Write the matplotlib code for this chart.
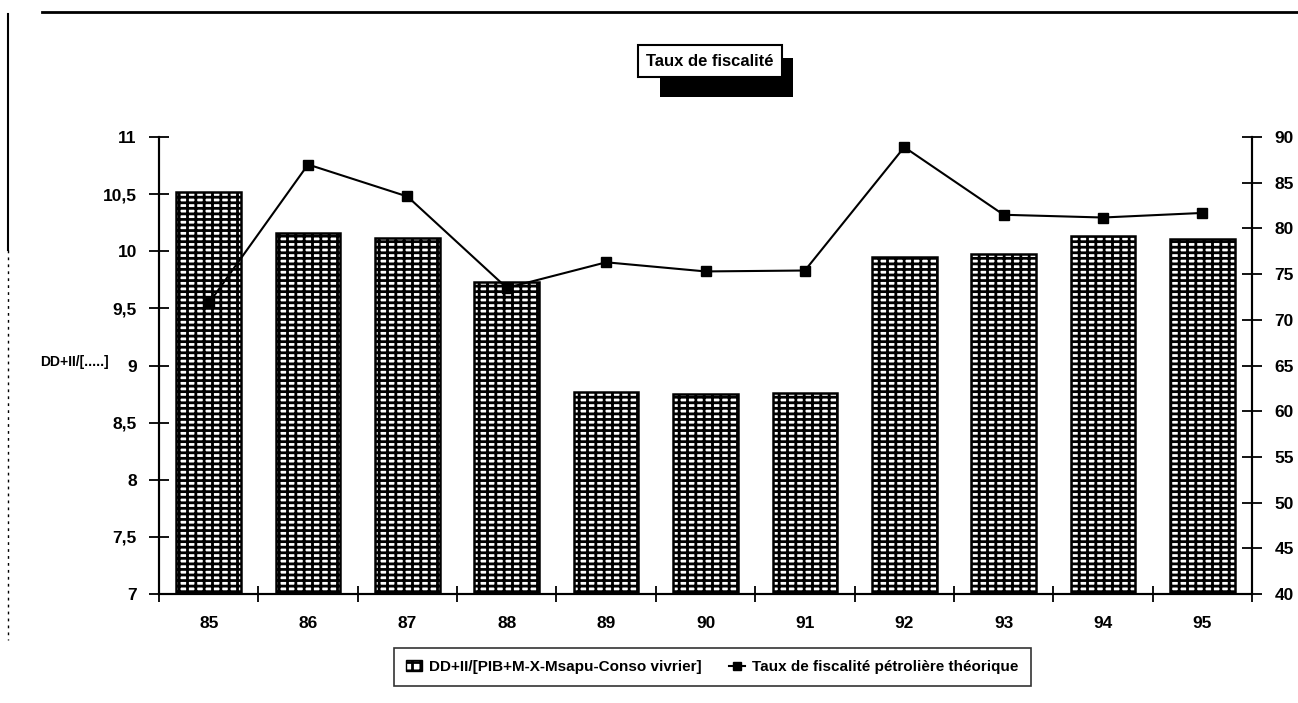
import matplotlib
matplotlib.use("Agg")
import numpy as np
import matplotlib.pyplot as plt
from matplotlib.patches import Rectangle, Patch
from matplotlib.lines import Line2D
from matplotlib.ticker import FixedLocator, FuncFormatter

# --- data -------------------------------------------------------------------
years = ["85", "86", "87", "88", "89", "90", "91", "92", "93", "94", "95"]
ratio_dd_ii = [10.52, 10.16, 10.12, 9.73, 8.77, 8.75, 8.76, 9.95, 9.98, 10.13, 10.11]
taux_petrole = [71.8, 87.0, 83.5, 73.5, 76.3, 75.3, 75.4, 88.9, 81.5, 81.2, 81.7]

bar_label = "DD+II/[PIB+M-X-Msapu-Conso vivrier]"
line_label = "Taux de fiscalité pétrolière théorique"
title = "Taux de fiscalité"
ylabel = "DD+II/[.....]"

# --- style ------------------------------------------------------------------
plt.rcParams['font.family'] = ['Liberation Sans', 'DejaVu Sans']
plt.rcParams['font.weight'] = 'bold'
plt.rcParams['hatch.linewidth'] = 2.0
plt.rcParams['hatch.color'] = 'black'

fig = plt.figure(figsize=(12.98, 7.03), dpi=100)
ax = fig.add_axes([0.1225, 0.155, 0.8421, 0.650])
ax2 = ax.twinx()

x = np.arange(len(years))
ax.bar(x, ratio_dd_ii, width=0.65, bottom=0, color='white', edgecolor='black',
       hatch='||---', linewidth=1.8, zorder=2)
ax2.plot(x, taux_petrole, color='black', linewidth=1.5, marker='s',
         markersize=7, markerfacecolor='black', zorder=3)

# axes ranges and ticks
ax.set_xlim(-0.5, len(years) - 0.5)
ax.set_ylim(7, 11)
ax2.set_ylim(40, 90)

ax.set_yticks(np.arange(7, 11.01, 0.5))
ax.yaxis.set_major_formatter(FuncFormatter(
    lambda v, p: (f"{v:g}").replace(".", ",")))
ax2.set_yticks(np.arange(40, 91, 5))

# x ticks sit between categories, labels centred under bars
ax.xaxis.set_major_locator(FixedLocator(np.arange(-0.5, len(years), 1.0)))
ax.xaxis.set_minor_locator(FixedLocator(x))
ax.set_xticklabels([])
ax.set_xticklabels(years, minor=True)
ax.tick_params(axis='x', which='minor', length=0, pad=16, labelsize=12.5)
ax.tick_params(axis='x', which='major', direction='inout', length=12, width=1.3)
ax.tick_params(axis='y', direction='inout', length=14, width=1.3,
               labelsize=12.5, pad=9)
ax2.tick_params(axis='y', direction='inout', length=14, width=1.3,
                labelsize=12.5, pad=9)

for a in (ax, ax2):
    a.spines['top'].set_visible(False)
    for s in ('left', 'right', 'bottom'):
        a.spines[s].set_linewidth(1.5)
ax.set_facecolor('none')

fig.text(0.031, 0.485, ylabel, fontsize=10, ha='left', va='center')

# legend box under the plot
handles = [
    Patch(facecolor='white', edgecolor='black', hatch='++', linewidth=1.0),
    Line2D([], [], color='black', marker='s', markersize=6, linewidth=1.5),
]
leg = fig.legend(handles, [bar_label, line_label], loc='center',
                 bbox_to_anchor=(0.549, 0.051), ncol=2, frameon=True,
                 fancybox=False, edgecolor='black', fontsize=11,
                 handlelength=1.0, handletextpad=0.5, columnspacing=1.8,
                 borderpad=0.8)
leg.get_frame().set_linewidth(1.2)

# title box with a black drop shadow
fig.add_artist(Rectangle((660 / 1298, 1 - 97 / 703), 133 / 1298, 39 / 703,
                         transform=fig.transFigure, facecolor='black',
                         edgecolor='none', zorder=1))
fig.text(710 / 1298, 1 - 61 / 703, title, fontsize=12, ha='center', va='center',
         zorder=2,
         bbox=dict(boxstyle='square,pad=0.5', facecolor='white',
                   edgecolor='black', linewidth=1.5))

# page frame lines
fig.add_artist(Line2D([42 / 1298, 1.0], [1 - 12 / 703] * 2,
                      transform=fig.transFigure, color='black', linewidth=2))
fig.add_artist(Line2D([8 / 1298] * 2, [1 - 14 / 703, 1 - 250 / 703],
                      transform=fig.transFigure, color='black', linewidth=1.5))
fig.add_artist(Line2D([8 / 1298] * 2, [1 - 250 / 703, 1 - 640 / 703],
                      transform=fig.transFigure, color='black', linewidth=1,
                      linestyle=(0, (2, 3))))

fig.savefig("out.png", dpi=100)
